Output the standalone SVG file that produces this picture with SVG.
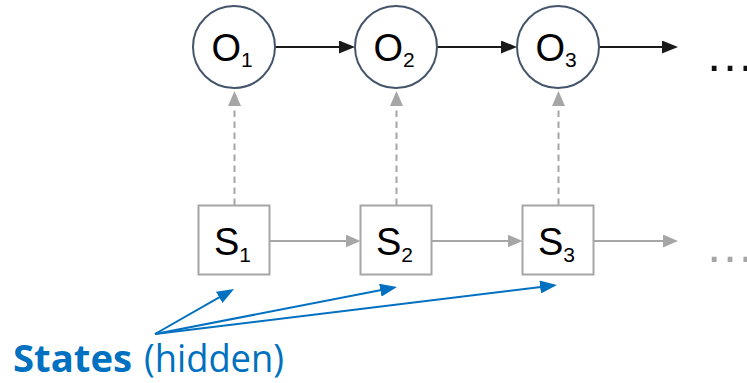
<svg xmlns="http://www.w3.org/2000/svg" width="747" height="383" viewBox="0 0 747 383">
  <style>
    .obs { fill: #ffffff; stroke: #44546a; stroke-width: 2; }
    .state { fill: #ffffff; stroke: #a6a6a6; stroke-width: 2; }
    .lbl { font-family: "Liberation Sans", Arial, sans-serif; font-size: 38px; fill: #000000; }
    .sub { font-size: 21px; }
    .emit { stroke: #a6a6a6; stroke-width: 2; stroke-dasharray: 6.5 4.5; fill: none; }
    .obs-link { stroke: #1a1a1a; stroke-width: 2; fill: none; }
    .state-link { stroke: #a6a6a6; stroke-width: 2; fill: none; }
    .note-link { stroke: #0070c0; stroke-width: 2; fill: none; }
    .note { font-family: "Open Sans", "Noto Sans", sans-serif; font-size: 38px; fill: #0070c0; }
    .more { font-family: "Liberation Sans", Arial, sans-serif; font-size: 50px; }
  </style>
  <defs>
    <marker id="ah-black" markerUnits="userSpaceOnUse" markerWidth="16" markerHeight="13" refX="8" refY="6.5" orient="auto">
      <path d="M0,0 L16,6.5 L0,13 z" fill="#1a1a1a"/>
    </marker>
    <marker id="ah-gray" markerUnits="userSpaceOnUse" markerWidth="15" markerHeight="13" refX="7" refY="6.5" orient="auto">
      <path d="M0,0 L15,6.5 L0,13 z" fill="#a6a6a6"/>
    </marker>
    <marker id="ah-blue" markerUnits="userSpaceOnUse" markerWidth="17" markerHeight="13" refX="9" refY="6.5" orient="auto">
      <path d="M0,0 L17,6.5 L0,13 z" fill="#0070c0"/>
    </marker>
  </defs>

  <!-- connectors -->
  <g id="connectors">
    <!-- observation chain -->
    <line class="obs-link" x1="275" y1="47" x2="347" y2="47" marker-end="url(#ah-black)"/>
    <line class="obs-link" x1="437" y1="47" x2="509" y2="47" marker-end="url(#ah-black)"/>
    <line class="obs-link" x1="599" y1="47" x2="670" y2="47" marker-end="url(#ah-black)"/>
    <!-- state chain -->
    <line class="state-link" x1="269.5" y1="241" x2="352.5" y2="241" marker-end="url(#ah-gray)"/>
    <line class="state-link" x1="431.5" y1="241" x2="514.5" y2="241" marker-end="url(#ah-gray)"/>
    <line class="state-link" x1="593.5" y1="241" x2="670" y2="241" marker-end="url(#ah-gray)"/>
    <!-- emissions -->
    <line class="emit" x1="234.5" y1="205" x2="234.5" y2="99" marker-end="url(#ah-gray)"/>
    <line class="emit" x1="396.5" y1="205" x2="396.5" y2="99" marker-end="url(#ah-gray)"/>
    <line class="emit" x1="558.5" y1="205" x2="558.5" y2="99" marker-end="url(#ah-gray)"/>
    <!-- label pointers -->
    <line class="note-link" x1="155" y1="334" x2="227.05" y2="292.96" marker-end="url(#ah-blue)"/>
    <line class="note-link" x1="155" y1="334" x2="389.15" y2="288.53" marker-end="url(#ah-blue)"/>
    <line class="note-link" x1="155" y1="334" x2="549.06" y2="285.97" marker-end="url(#ah-blue)"/>
  </g>

  <!-- observations -->
  <g id="O1">
    <circle class="obs" cx="234" cy="47" r="41"/>
    <text class="lbl" x="211.5" y="61">O<tspan class="sub" dy="6">1</tspan></text>
  </g>
  <g id="O2">
    <circle class="obs" cx="396" cy="47" r="41"/>
    <text class="lbl" x="373.5" y="61">O<tspan class="sub" dy="6">2</tspan></text>
  </g>
  <g id="O3">
    <circle class="obs" cx="558" cy="47" r="41"/>
    <text class="lbl" x="535.5" y="61">O<tspan class="sub" dy="6">3</tspan></text>
  </g>
  <g id="O-more">
    <text class="more" x="705" y="71" fill="#111111">…</text>
  </g>

  <!-- hidden states -->
  <g id="S1">
    <rect class="state" x="198.5" y="205.5" width="71" height="69"/>
    <text class="lbl" x="214" y="254.5">S<tspan class="sub" dy="7">1</tspan></text>
  </g>
  <g id="S2">
    <rect class="state" x="360.5" y="205.5" width="71" height="69"/>
    <text class="lbl" x="376" y="254.5">S<tspan class="sub" dy="7">2</tspan></text>
  </g>
  <g id="S3">
    <rect class="state" x="522.5" y="205.5" width="71" height="69"/>
    <text class="lbl" x="538" y="254.5">S<tspan class="sub" dy="7">3</tspan></text>
  </g>
  <g id="S-more">
    <text class="more" x="705" y="262" fill="#a6a6a6">…</text>
  </g>

  <!-- caption -->
  <g id="caption">
    <text class="note" x="13" y="371.5" font-weight="bold" textLength="119" lengthAdjust="spacingAndGlyphs">States</text>
    <text class="note" x="144" y="371.5" textLength="140" lengthAdjust="spacingAndGlyphs">(hidden)</text>
  </g>
</svg>
